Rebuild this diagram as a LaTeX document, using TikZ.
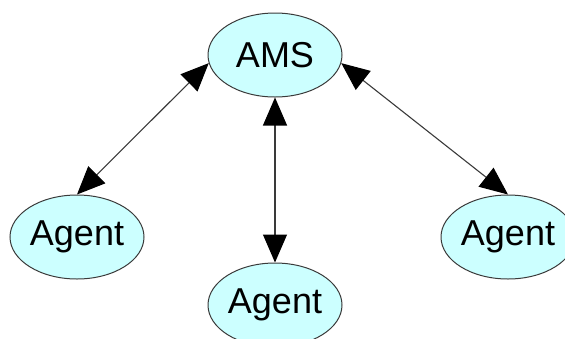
\documentclass[tikz,border=0pt]{standalone}
\usepackage{fontspec}
\setmainfont{Liberation Sans}
\usetikzlibrary{shapes.geometric,arrows.meta}
\definecolor{nodefill}{HTML}{CCFFFF}
\definecolor{edgegray}{HTML}{3A3A3A}
\begin{document}
\begin{tikzpicture}[x=1pt,y=-1pt,
  agentnode/.style={ellipse, draw=edgegray, line width=1pt, fill=nodefill,
    minimum width=134pt, minimum height=84pt, inner sep=0pt,
    font=\fontsize{36}{40}\selectfont},
  link/.style={draw=edgegray, line width=1.1pt, {Triangle[length=28pt,width=24pt,color=black]}-{Triangle[length=28pt,width=24pt,color=black]}}]
\useasboundingbox (0,0) rectangle (565,338);
\clip (0,0) rectangle (565,338);
\node[agentnode] (ams) at (275,55) {AMS};
\node[agentnode] (left) at (77,237) {Agent};
\node[agentnode] (bottom) at (275,305) {Agent};
\node[agentnode] (right) at (508,237) {Agent};
\draw[link] (ams.187) -- (left.north);
\draw[link] (ams.south) -- (bottom.north);
\draw[link] (ams.353) -- (right.north);
\end{tikzpicture}
\end{document}
